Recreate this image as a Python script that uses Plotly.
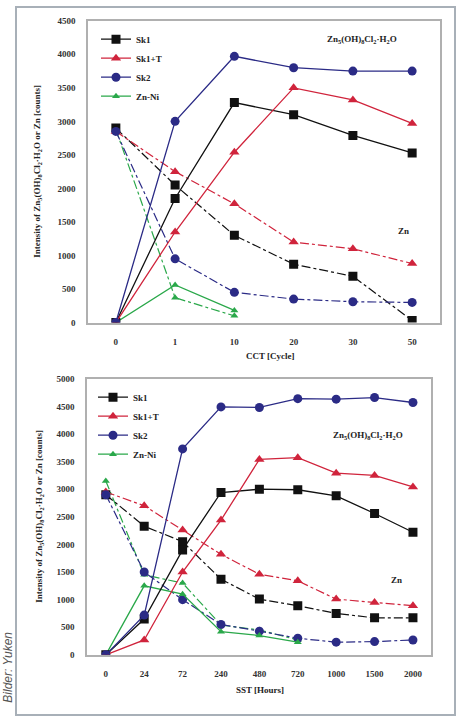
import plotly.graph_objects as go

W, H = 462, 722

# ---------------- data ----------------
cct_cycles = ["0", "1", "10", "20", "30", "50"]
top_sk1_solid = [0, 1850, 3280, 3100, 2790, 2530]
top_sk1t_solid = [0, 1350, 2540, 3500, 3320, 2970]
top_sk2_solid = [0, 3000, 3970, 3800, 3750, 3750]
top_znni_solid = [0, 560, 180]
top_sk1_dash = [2900, 2050, 1300, 870, 690, 30]
top_sk1t_dash = [2850, 2250, 1770, 1200, 1100, 880]
top_sk2_dash = [2850, 950, 450, 350, 310, 300]
top_znni_dash = [2880, 370, 100]

sst_hours = ["0", "24", "72", "240", "480", "720", "1000", "1500", "2000"]
bot_sk1_solid = [0, 650, 1900, 2940, 3000, 2990, 2880, 2560, 2220]
bot_sk1t_solid = [0, 270, 1500, 2440, 3540, 3570, 3290, 3250, 3040]
bot_sk2_solid = [0, 720, 3730, 4490, 4480, 4640, 4630, 4660, 4570]
bot_znni_solid = [0, 1250, 1100, 420, 350, 230]
bot_sk1_dash = [2900, 2330, 2050, 1370, 1010, 890, 750, 670, 670]
bot_sk1t_dash = [2950, 2700, 2260, 1820, 1460, 1340, 1010, 950, 890]
bot_sk2_dash = [2900, 1500, 1000, 550, 430, 300, 230, 240, 270]
bot_znni_dash = [3150, 1450, 1300, 540, 450, 270]

series_names = ["Sk1", "Sk1+T", "Sk2", "Zn-Ni"]
colors = ["#111111", "#d0243c", "#2b2b86", "#2aa84a"]
symbols = ["square", "triangle-up", "circle", "triangle-up"]
msizes = [9, 9, 9, 7]
draw_order = [3, 0, 1, 2]

FONT = "Liberation Serif"

fig = go.Figure()


def add_set(xcats, solids, dashes, xa, ya, legend):
    for i in draw_order:
        name = series_names[i]
        d = dashes[i]
        fig.add_trace(go.Scatter(
            x=xcats[:len(d)], y=d, name=name + " Zn", mode="lines+markers",
            xaxis=xa, yaxis=ya, showlegend=False,
            line=dict(color=colors[i], width=1.2, dash="dashdot"),
            marker=dict(symbol=symbols[i], size=msizes[i], color=colors[i]),
        ))
    for i in draw_order:
        name = series_names[i]
        s = solids[i]
        fig.add_trace(go.Scatter(
            x=xcats[:len(s)], y=s, name=name, mode="lines+markers",
            xaxis=xa, yaxis=ya, legend=legend, showlegend=True,
            legendrank=i + 1,
            line=dict(color=colors[i], width=1.3),
            marker=dict(symbol=symbols[i], size=msizes[i], color=colors[i]),
        ))


add_set(cct_cycles,
        [top_sk1_solid, top_sk1t_solid, top_sk2_solid, top_znni_solid],
        [top_sk1_dash, top_sk1t_dash, top_sk2_dash, top_znni_dash],
        "x", "y", "legend")
add_set(sst_hours,
        [bot_sk1_solid, bot_sk1t_solid, bot_sk2_solid, bot_znni_solid],
        [bot_sk1_dash, bot_sk1t_dash, bot_sk2_dash, bot_znni_dash],
        "x2", "y2", "legend2")

tickfont = dict(family=FONT, size=9, color="#333333", weight="bold")
axcommon = dict(showline=True, linecolor="#b0b0b0", linewidth=1.5, mirror=True,
                showgrid=False, zeroline=False, ticks="", tickfont=tickfont)


def px(x):
    return x / W


def py(y):
    return 1 - y / H


legfont = dict(family=FONT, size=9, color="#222", weight="bold")
fig.update_layout(
    width=W, height=H, margin=dict(l=0, r=0, t=0, b=0),
    paper_bgcolor="white", plot_bgcolor="white",
    xaxis=dict(domain=[px(88), px(440)], anchor="y", type="category",
               range=[-0.47, 5.47], ticklabelstandoff=10, **axcommon),
    yaxis=dict(domain=[py(322), py(16)], anchor="x", range=[0, 4500],
               dtick=500, ticklabelstandoff=9, **axcommon),
    xaxis2=dict(domain=[px(87), px(431)], anchor="y2", type="category",
                range=[-0.49, 8.47], ticklabelstandoff=10, **axcommon),
    yaxis2=dict(domain=[py(659), py(379)], anchor="x2", range=[0, 5000],
                dtick=500, ticklabelstandoff=9, **axcommon),
    legend=dict(x=px(96), y=py(20), xanchor="left", yanchor="top",
                bgcolor="rgba(0,0,0,0)", font=legfont,
                itemwidth=30, tracegroupgap=0),
    legend2=dict(x=px(93), y=py(383), xanchor="left", yanchor="top",
                 bgcolor="rgba(0,0,0,0)", font=legfont,
                 itemwidth=30, tracegroupgap=0),
    showlegend=True,
)

annfont = dict(family=FONT, size=9, color="#222222", weight="bold")
ytitle = "Intensity of Zn<sub>5</sub>(OH)<sub>8</sub>Cl<sub>2</sub>·H<sub>2</sub>O or Zn [counts]"
species = "Zn<sub>5</sub>(OH)<sub>8</sub>Cl<sub>2</sub>·H<sub>2</sub>O"
anns = [
    dict(x=px(38), y=py(169), text=ytitle, textangle=-90),
    dict(x=px(40), y=py(519), text=ytitle, textangle=-90),
    dict(x=px(270), y=py(356), text="CCT [Cycle]"),
    dict(x=px(260), y=py(695), text="SST [Hours]"),
    dict(x=px(362), y=py(35), text=species),
    dict(x=px(368), y=py(437), text=species),
    dict(x=px(403), y=py(229), text="Zn"),
    dict(x=px(396), y=py(583), text="Zn"),
]
for a in anns:
    fig.add_annotation(xref="paper", yref="paper", showarrow=False,
                       font=annfont, xanchor="center", yanchor="middle", **a)

fig.add_annotation(xref="paper", yref="paper", x=px(8), y=py(672),
                   text="<i>Bilder: Yuken</i>", textangle=-90, showarrow=False,
                   font=dict(family="Liberation Sans", size=12, color="#555555"),
                   xanchor="center", yanchor="middle")

fig.add_shape(type="rect", xref="paper", yref="paper",
              x0=px(16), x1=px(455), y0=py(720), y1=py(2),
              line=dict(color="#a8b0b8", width=2), fillcolor="rgba(0,0,0,0)")

fig.write_html("out.html")
